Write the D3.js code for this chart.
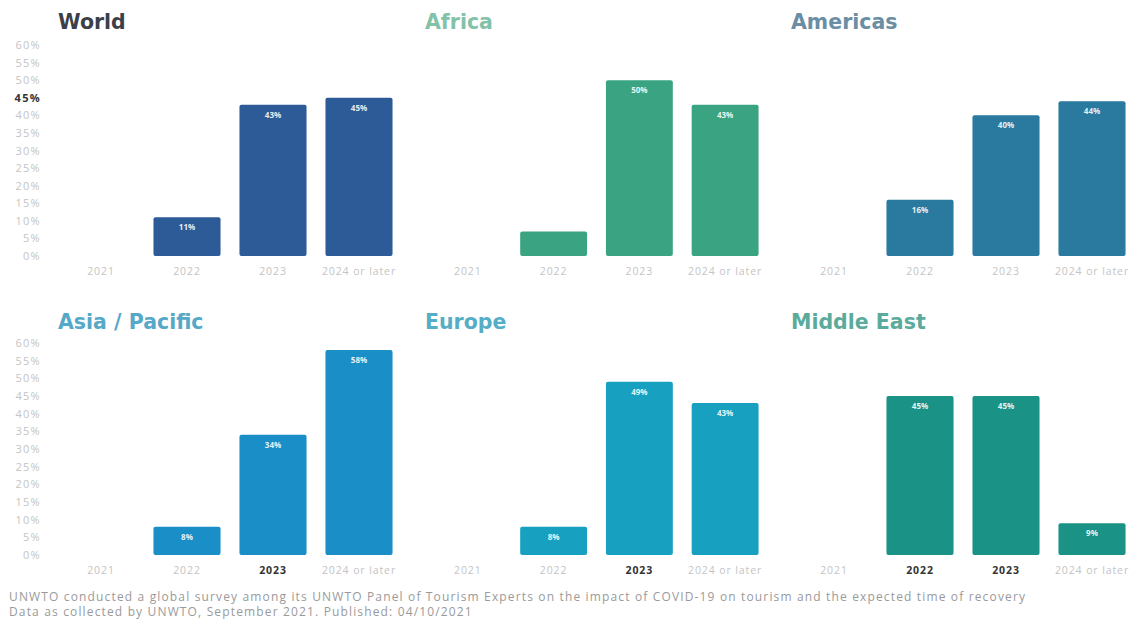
<!DOCTYPE html>
<html>
<head>
<meta charset="utf-8">
<script src="https://cdn.jsdelivr.net/npm/d3@7"></script>
<style>
  html, body { margin: 0; padding: 0; background: #fff; }
  svg { display: block; }
</style>
</head>
<body>
<svg id="chart" width="1136" height="625"></svg>
<script>
// Expected year of tourism recovery, share of expert responses by region
const categories = ["2021", "2022", "2023", "2024 or later"];
const yTicks = [0, 5, 10, 15, 20, 25, 30, 35, 40, 45, 50, 55, 60];

const regions = ["World", "Africa", "Americas", "Asia / Pacific", "Europe", "Middle East"];
const worldValues      = [0, 11, 43, 45];
const africaValues     = [0, 7, 50, 43];
const americasValues   = [0, 16, 40, 44];
const asiaValues       = [0, 8, 34, 58];
const europeValues     = [0, 8, 49, 43];
const middleEastValues = [0, 45, 45, 9];
// value labels shown on each bar (null = no label)
const worldLabels      = [null, "11%", "43%", "45%"];
const africaLabels     = [null, null, "50%", "43%"];
const americasLabels   = [null, "16%", "40%", "44%"];
const asiaLabels       = [null, "8%", "34%", "58%"];
const europeLabels     = [null, "8%", "49%", "43%"];
const middleEastLabels = [null, "45%", "45%", "9%"];

const barColors   = ["#2d5b98", "#3aa482", "#2a7aa0", "#1a8ec6", "#17a0c0", "#1b9286"];
const titleColors = ["#3b3f4a", "#82c2a8", "#6a8ea3", "#56a8c8", "#56adc6", "#5aab9c"];

// highlighted axis labels (hover state) per panel
const boldCats = [[], [], [], ["2023"], ["2023"], ["2022", "2023"]];
const boldTicks = [[45], [], [], [], [], []];

const footerLines = [
  "UNWTO conducted a global survey among its UNWTO Panel of Tourism Experts on the impact of COVID-19 on tourism and the expected time of recovery",
  "Data as collected by UNWTO, September 2021. Published: 04/10/2021"
];

const allValues = [worldValues, africaValues, americasValues, asiaValues, europeValues, middleEastValues];
const allLabels = [worldLabels, africaLabels, americasLabels, asiaLabels, europeLabels, middleEastLabels];

const svg = d3.select("#chart");

const colRanges = [[58, 402], [425, 768], [791, 1135]];
const rowRanges = [[256, 45], [555, 343]];
const titleY = [29, 329];

regions.forEach((name, i) => {
  const col = i % 3, row = Math.floor(i / 3);
  const x = d3.scaleBand().domain(categories).range(colRanges[col]).paddingInner(0.22).paddingOuter(0.11);
  const y = d3.scaleLinear().domain([0, 60]).range(rowRanges[row]);
  const g = svg.append("g");

  g.append("text")
    .attr("x", colRanges[col][0])
    .attr("y", titleY[row])
    .attr("font-family", "DejaVu Sans, sans-serif")
    .attr("font-weight", "bold")
    .attr("font-size", 20.5)
    .attr("fill", titleColors[i])
    .text(name);

  if (col === 0) {
    const yAxis = g.append("g")
      .attr("transform", `translate(41,0)`)
      .call(d3.axisLeft(y).tickValues(yTicks).tickFormat(d => d + "%").tickSize(0).tickPadding(0));
    yAxis.select(".domain").remove();
    yAxis.selectAll("text")
      .attr("font-family", "Open Sans, sans-serif")
      .attr("font-size", 11)
      .attr("letter-spacing", 1.3)
      .attr("fill", d => boldTicks[i].includes(d) ? "#333" : "#c4c4c4")
      .attr("font-weight", d => boldTicks[i].includes(d) ? "bold" : "normal");
  }

  const xAxis = g.append("g")
    .attr("transform", `translate(0,${rowRanges[row][0] + 12})`)
    .call(d3.axisBottom(x).tickSize(0).tickPadding(0));
  xAxis.select(".domain").remove();
  xAxis.selectAll("text")
    .attr("font-family", "Open Sans, sans-serif")
    .attr("font-size", 10.5)
    .attr("letter-spacing", 0.9)
    .attr("fill", d => boldCats[i].includes(d) ? "#333" : "#c4c4c4")
    .attr("font-weight", d => boldCats[i].includes(d) ? "bold" : "normal");

  const data = categories.map((c, k) => ({ c, v: allValues[i][k], label: allLabels[i][k] }));

  g.selectAll("rect.bar")
    .data(data.filter(d => d.v > 0))
    .join("rect")
    .attr("class", "bar")
    .attr("x", d => x(d.c))
    .attr("width", x.bandwidth())
    .attr("y", d => y(d.v))
    .attr("height", d => y(0) - y(d.v))
    .attr("rx", 2)
    .attr("fill", barColors[i]);

  g.selectAll("text.val")
    .data(data.filter(d => d.label))
    .join("text")
    .attr("class", "val")
    .attr("x", d => x(d.c) + x.bandwidth() / 2)
    .attr("y", d => y(d.v) + 13)
    .attr("text-anchor", "middle")
    .attr("font-family", "Open Sans, sans-serif")
    .attr("font-weight", "bold")
    .attr("font-size", 8)
    .attr("fill", "#ffffff")
    .attr("fill-opacity", 0.9)
    .text(d => d.label);
});

svg.selectAll("text.footer")
  .data(footerLines)
  .join("text")
  .attr("class", "footer")
  .attr("x", 9)
  .attr("y", (d, k) => 601 + k * 15)
  .attr("font-family", "Open Sans, sans-serif")
  .attr("font-size", 12)
  .attr("letter-spacing", 1.15)
  .attr("fill", "#9a9a9a")
  .text(d => d);
</script>
</body>
</html>
